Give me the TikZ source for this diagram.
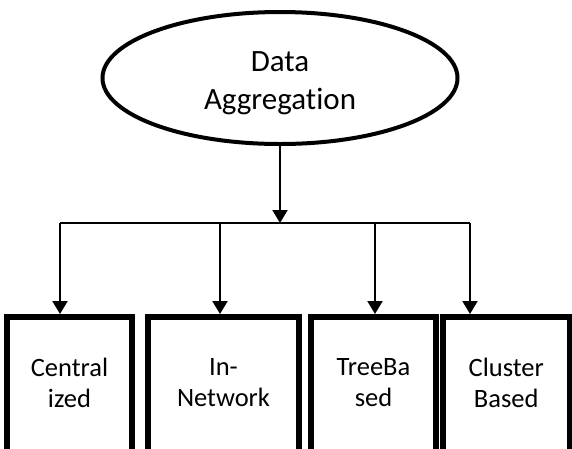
\documentclass[tikz,border=0pt]{standalone}
\usepackage{fontspec}
\setmainfont{Carlito}[Ligatures=NoCommon]
\usetikzlibrary{shapes.geometric,arrows.meta}
\begin{document}
\begin{tikzpicture}[x=1pt,y=-1pt,
  catbox/.style={draw,line width=5.5pt,rectangle,inner sep=0pt,minimum height=144pt,anchor=north},
  cattext/.style={align=center,font=\fontsize{26.5}{31.5}\selectfont,yshift=6pt},
  conn/.style={line width=2pt},
  arr/.style={conn,-{Triangle[length=13pt,width=15pt]}}]
\useasboundingbox (0,0) rectangle (572,448);
\clip (0,0) rectangle (572,448);
\node[draw,ellipse,line width=4pt,minimum width=355pt,minimum height=132pt,inner sep=0pt] (agg) at (280,78) {};
\node[align=center,font=\fontsize{31}{38}\selectfont] (aggtext) at ([yshift=-5pt]agg.center) {Data\\Aggregation};
\node[catbox,minimum width=125pt,label={[cattext]center:Central\\ized}] (c1) at (69.5,314) {};
\node[catbox,minimum width=151pt,label={[cattext]center:In-\\Network}] (c2) at (223.5,314) {};
\node[catbox,minimum width=125pt,label={[cattext]center:TreeBa\\sed}] (c3) at (373.5,314) {};
\node[catbox,minimum width=126.5pt,label={[cattext]center:Cluster\\Based}] (c4) at (506.25,314) {};
\coordinate (hub) at (280,223);
\coordinate (b1) at (60,223);
\coordinate (b2) at (220,223);
\coordinate (b3) at (375,223);
\coordinate (b4) at (470,223);
\draw[arr] (agg.south) -- (hub);
\draw[conn] (b1) -- (b4);
\draw[arr] (b1) -- (b1 |- c1.north);
\draw[arr] (b2) -- (b2 |- c2.north);
\draw[arr] (b3) -- (b3 |- c3.north);
\draw[arr] (b4) -- (b4 |- c4.north);
\end{tikzpicture}
\end{document}
